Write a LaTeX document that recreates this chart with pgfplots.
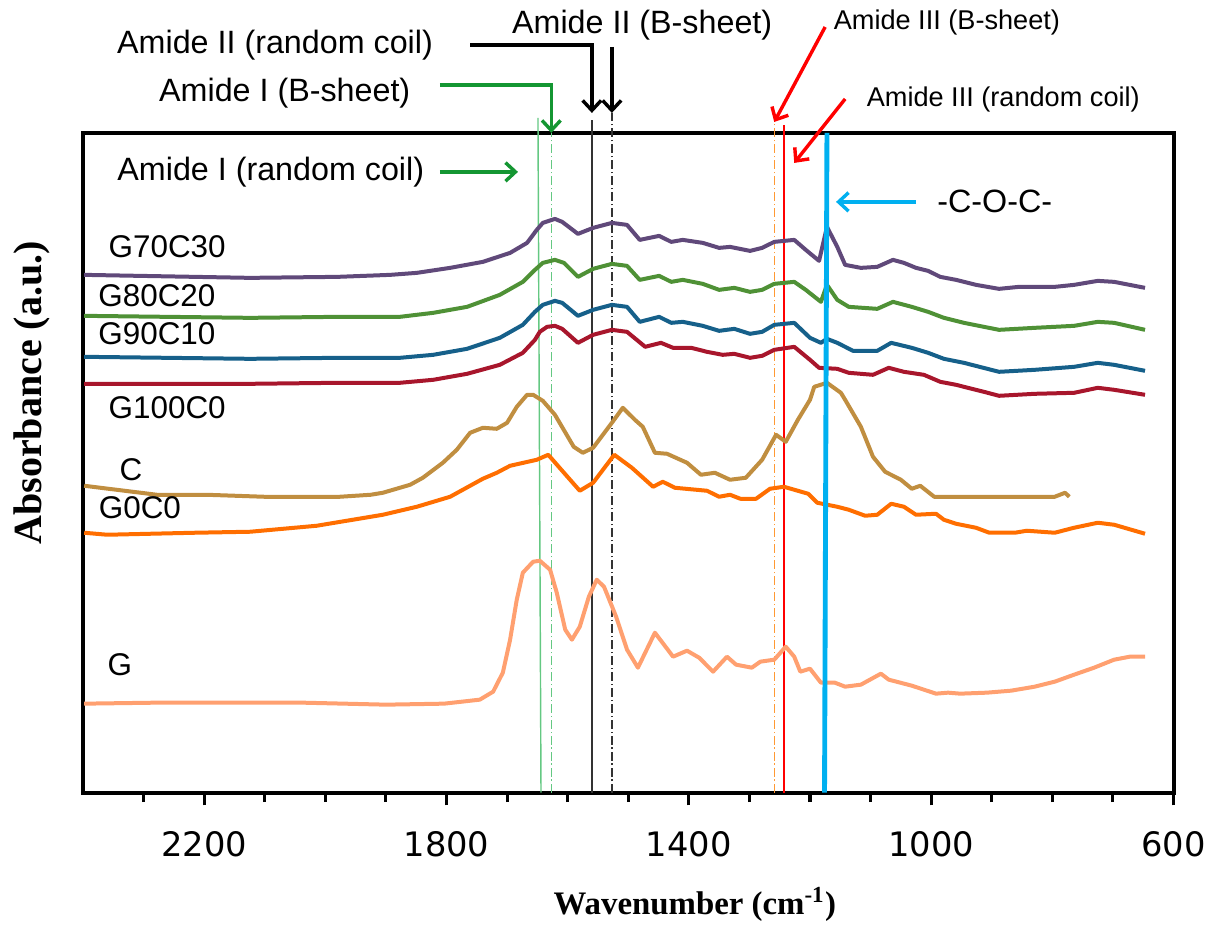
\documentclass[border=0pt]{standalone}
\usepackage{fontspec}
\setmainfont{Liberation Sans}
\newfontfamily\tickfont{DejaVu Sans}
\newfontfamily\labfont{Liberation Serif}
\usepackage{pgfplots}
\pgfplotsset{compat=1.18}
\usepackage{pgfplotstable}
\usetikzlibrary{arrows.meta}

\definecolor{cPurple}{RGB}{96,73,122}
\definecolor{cGreen}{RGB}{79,145,54}
\definecolor{cBlue}{RGB}{22,96,138}
\definecolor{cRed}{RGB}{168,22,44}
\definecolor{cBrown}{RGB}{192,142,64}
\definecolor{cOrange}{RGB}{255,110,0}
\definecolor{cSalmon}{RGB}{255,160,112}
\definecolor{aGreen}{RGB}{20,150,50}
\definecolor{lGreen}{RGB}{100,200,130}
\definecolor{aCyan}{RGB}{0,176,240}
\definecolor{dOrange}{RGB}{255,153,51}

% spectra, x = wavenumber, y = absorbance (arbitrary offset units)
\pgfplotstableread{
x y
2398 518
2124 515
1980 516
1893 518
1849 520
1794 525
1740 531
1695 540
1667 550
1651 563
1641 570
1621 574
1609 571
1583 559
1558 565
1527 570
1502 568
1481 553
1449 557
1429 551
1410 553
1377 550
1350 545
1332 546
1299 542
1279 545
1259 551
1226 553
1207 543
1185 532
1172 566
1155 546
1142 528
1116 525
1089 526
1063 533
1045 530
1025 525
1005 522
985 516
959 513
926 508
888 504
855 506
829 506
796 506
764 508
725 512
698 511
647 505
}\gSeventy

\pgfplotstableread{
x y
2398 477
2124 475
1980 476
1877 476
1822 480
1766 486
1712 498
1674 511
1654 523
1641 530
1621 533
1606 530
1583 516
1558 524
1527 529
1502 527
1481 513
1449 517
1429 511
1410 513
1377 509
1350 503
1325 505
1299 501
1279 503
1259 509
1226 511
1207 503
1182 491
1172 508
1155 493
1136 486
1089 484
1063 491
1032 486
1005 481
979 475
946 470
888 463
829 465
764 467
725 471
698 470
647 463
}\gEighty

\pgfplotstableread{
x y
2398 436
2124 434
1980 435
1877 435
1822 438
1766 444
1712 455
1674 468
1654 481
1641 488
1621 492
1609 490
1583 477
1558 483
1527 488
1502 486
1481 471
1449 476
1429 470
1410 471
1377 467
1350 462
1325 464
1299 459
1279 461
1259 468
1226 470
1200 455
1182 450
1172 454
1155 450
1129 442
1089 442
1066 450
1032 445
1005 440
979 434
946 430
888 421
829 423
764 426
725 430
698 428
647 422
}\gNinety

\pgfplotstableread{
x y
2398 409
2124 409
1980 410
1877 410
1822 413
1766 419
1712 428
1674 440
1654 453
1646 461
1634 466
1621 467
1609 464
1583 450
1558 458
1527 463
1502 461
1472 446
1446 450
1426 445
1396 445
1370 441
1344 438
1325 439
1299 435
1279 437
1259 443
1226 446
1200 433
1185 425
1155 424
1136 420
1096 418
1070 425
1045 421
1012 418
985 411
959 408
913 401
888 397
829 399
764 400
725 405
698 403
647 398
}\gHundred

\pgfplotstableread{
x y
2398 307
2278 298
2197 298
2101 296
1976 296
1925 298
1905 300
1860 308
1839 315
1806 330
1783 343
1761 360
1740 365
1717 364
1700 370
1684 386
1667 398
1657 398
1641 392
1621 378
1590 346
1575 340
1558 345
1527 370
1509 385
1489 373
1476 366
1456 340
1436 339
1403 330
1380 318
1357 320
1332 313
1306 315
1279 333
1256 358
1240 351
1220 373
1200 393
1193 406
1172 410
1149 400
1142 393
1116 366
1096 336
1076 321
1050 313
1032 304
1018 307
995 296
895 296
796 296
779 300
772 296
}\cOnly

\pgfplotstableread{
x y
2398 260
2360 258
2215 260
2124 261
2014 267
1905 278
1849 286
1794 296
1740 314
1717 320
1695 327
1651 333
1632 338
1609 322
1580 302
1558 310
1523 338
1494 325
1459 306
1443 311
1423 305
1370 302
1350 296
1332 298
1315 294
1289 294
1266 304
1243 306
1203 299
1188 290
1155 286
1136 283
1109 277
1089 278
1066 289
1045 286
1025 278
992 279
979 273
959 269
926 265
904 260
862 260
842 262
796 260
764 265
725 270
698 268
647 259
}\gZero

\pgfplotstableread{
x y
2398 89
2278 90
2038 90
1900 88
1804 89
1745 93
1723 101
1707 120
1695 153
1684 193
1674 220
1657 231
1646 232
1629 223
1618 200
1604 163
1593 153
1580 166
1565 196
1552 213
1540 206
1520 176
1502 143
1484 125
1456 160
1426 136
1403 142
1383 135
1360 121
1337 136
1322 128
1296 125
1282 131
1259 133
1240 146
1226 136
1216 121
1200 124
1182 110
1159 110
1142 106
1116 108
1083 119
1070 113
1032 107
992 99
972 100
952 99
908 100
868 102
829 106
796 111
764 118
731 125
698 133
672 136
647 136
}\gOnly

\tikzset{barb/.style={-{Straight Barb[length=3.5pt,width=6.5pt]}}}

\begin{document}
\begin{tikzpicture}
\begin{axis}[
    scale only axis,
    width=381.85pt, height=231pt,
    xmin=600, xmax=2400, ymin=0, ymax=660,
    x dir=reverse,
    xtick={600,1000,1400,1800,2200},
    xticklabels={600,1000,1400,1800,2200},
    minor xtick={700,800,900,1100,1200,1300,1500,1600,1700,1900,2000,2100,2300},
    ytick=\empty,
    xtick pos=left,
    tick align=outside,
    major tick length=4.5pt,
    minor tick length=3.3pt,
    every tick/.style={black, line width=1.1pt},
    axis line style={line width=1.4pt},
    xticklabel style={font=\tickfont\fontsize{11.8}{14}\selectfont, yshift=-5.5pt},
    clip=false,
    every axis plot/.append style={line width=1.4pt, line join=round},
]
% marker lines
\draw[lGreen, line width=0.5pt] (axis cs:1649,675) -- (axis cs:1644,0);
\draw[lGreen, line width=0.5pt, dash pattern=on 3pt off 1pt on 0.6pt off 1pt] (axis cs:1627,0) -- (axis cs:1627,660);
\draw[black!80, line width=0.5pt] (axis cs:1560,0) -- (axis cs:1560,673);
\draw[black!80, line width=0.5pt, dash pattern=on 3pt off 1pt on 0.6pt off 1pt] (axis cs:1527,0) -- (axis cs:1527,680);
\draw[dOrange, line width=0.5pt, dash pattern=on 3pt off 1pt on 0.6pt off 1pt] (axis cs:1259,0) -- (axis cs:1259,671);
\draw[red, line width=0.5pt] (axis cs:1243,0) -- (axis cs:1243,668);

\addplot[cPurple] table {\gSeventy};
\addplot[cGreen] table {\gEighty};
\addplot[cBlue] table {\gNinety};
\addplot[cRed] table {\gHundred};
\addplot[cBrown] table {\cOnly};
\addplot[cOrange] table {\gZero};
\addplot[cSalmon] table {\gOnly};

\draw[aCyan, line width=1.7pt] (axis cs:1172,660) -- (axis cs:1176,0);

% sample names
\begin{scope}[every node/.style={font=\fontsize{11}{13}\selectfont}]
\node at (axis cs:2261,546) {G70C30};
\node at (axis cs:2278,497) {G80C20};
\node at (axis cs:2278,459) {G90C10};
\node at (axis cs:2261,385) {G100C0};
\node at (axis cs:2321,323) {C};
\node at (axis cs:2306,285) {G0C0};
\node at (axis cs:2339,128) {G};
\end{scope}

% band annotations
\begin{scope}[every node/.style={font=\fontsize{11.3}{13.5}\selectfont}]
\node at (axis cs:2083,748) {Amide II (random coil)};
\node at (axis cs:2067,700) {Amide I (B-sheet)};
\node at (axis cs:2090,621) {Amide I (random coil)};
\node at (axis cs:1477,768) {Amide II (B-sheet)};
\node at (axis cs:895,592) {-C-O-C-};
\end{scope}
\node[font=\fontsize{9.5}{11}\selectfont] at (axis cs:974,770) {Amide III (B-sheet)};
\node[font=\fontsize{9.5}{11}\selectfont] at (axis cs:881,693) {Amide III (random coil)};

\draw[black, line width=1.2pt, barb] (axis cs:1761,748) -- (axis cs:1560,748) -- (axis cs:1560,680);
\draw[black, line width=1.2pt, barb] (axis cs:1527,746) -- (axis cs:1527,680);
\draw[aGreen, line width=1.2pt, barb] (axis cs:1811,708) -- (axis cs:1627,708) -- (axis cs:1627,660);
\draw[aGreen, line width=1.2pt, barb] (axis cs:1811,621) -- (axis cs:1682,621);
\draw[red, line width=1.2pt, barb] (axis cs:1175,766) -- (axis cs:1259,671);
\draw[red, line width=1.2pt, barb] (axis cs:1142,694) -- (axis cs:1226,630);
\draw[aCyan, line width=1.2pt, barb] (axis cs:1025,591) -- (axis cs:1157,591);

% axis titles
\node[font=\labfont\bfseries\fontsize{11.5}{14}\selectfont] at (axis cs:1390,-112) {Wavenumber (cm\textsuperscript{-1})};
\node[font=\labfont\bfseries\fontsize{14}{16}\selectfont, rotate=90] at (axis cs:2484,400) {Absorbance (a.u.)};

\coordinate (bbSW) at (axis cs:2537,-132);
\coordinate (bbNE) at (axis cs:515,793);
\end{axis}
\pgfresetboundingbox
\useasboundingbox (bbSW) rectangle (bbNE);
\end{tikzpicture}
\end{document}
